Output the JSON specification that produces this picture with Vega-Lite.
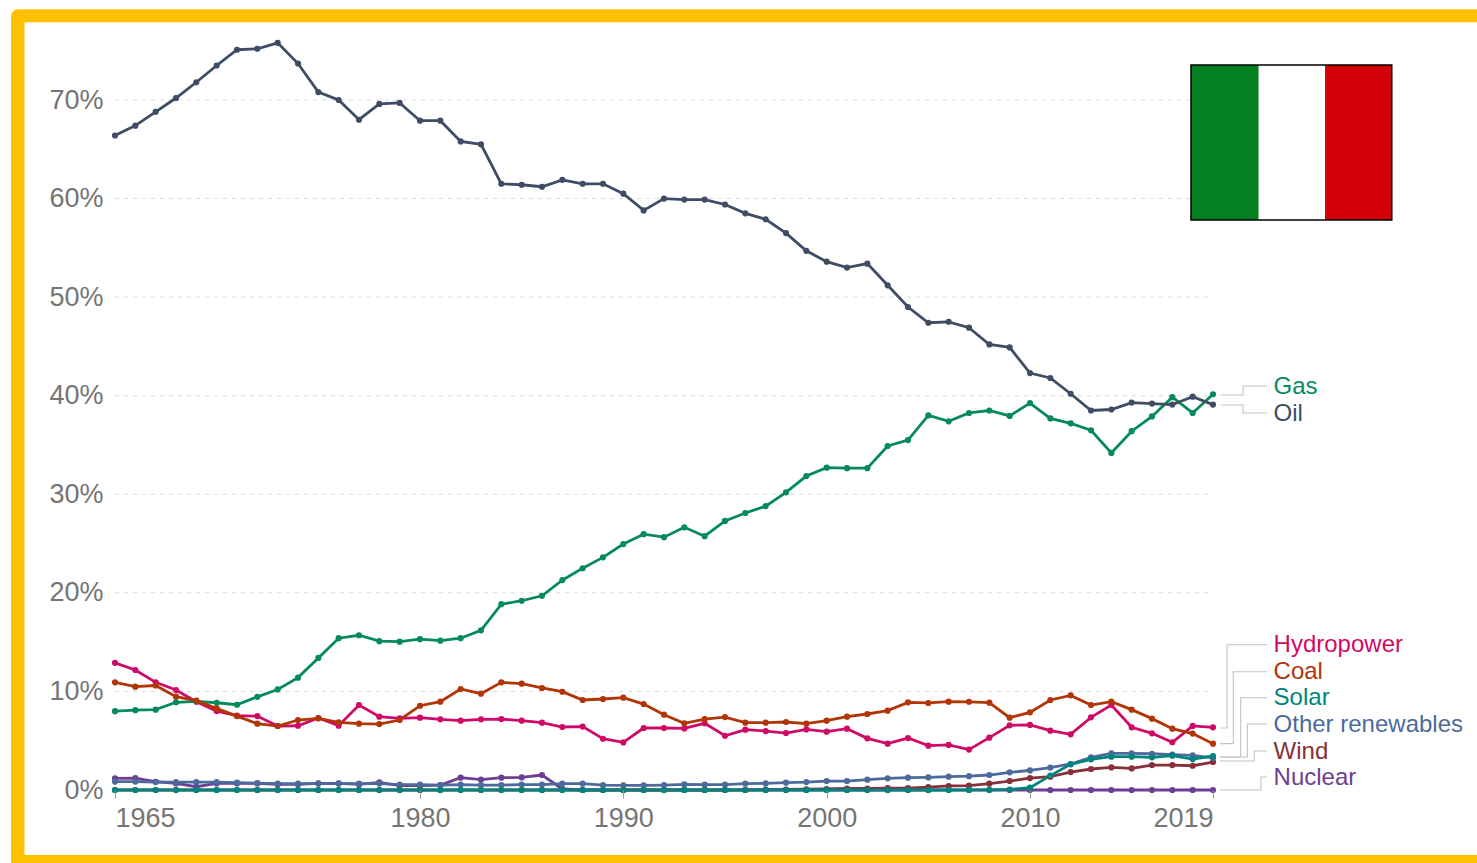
{
"$schema":"https://vega.github.io/schema/vega-lite/v6.json",
"width":1098,"height":759,
"autosize":"none",
"padding":{"left":115,"top":31,"right":264,"bottom":73},
"background":"#ffffff",
"view":{"stroke":null},
"config":{"font":"Liberation Sans"},
"datasets":{
"energy":[
{"year":1965,"source":"Nuclear","share":1.18},{"year":1966,"source":"Nuclear","share":1.21},{"year":1967,"source":"Nuclear","share":0.84},{"year":1968,"source":"Nuclear","share":0.67},{"year":1969,"source":"Nuclear","share":0.33},{"year":1970,"source":"Nuclear","share":0.67},{"year":1971,"source":"Nuclear","share":0.67},{"year":1972,"source":"Nuclear","share":0.67},{"year":1973,"source":"Nuclear","share":0.57},{"year":1974,"source":"Nuclear","share":0.57},{"year":1975,"source":"Nuclear","share":0.67},{"year":1976,"source":"Nuclear","share":0.67},{"year":1977,"source":"Nuclear","share":0.57},{"year":1978,"source":"Nuclear","share":0.78},{"year":1979,"source":"Nuclear","share":0.44},{"year":1980,"source":"Nuclear","share":0.44},{"year":1981,"source":"Nuclear","share":0.5},{"year":1982,"source":"Nuclear","share":1.25},{"year":1983,"source":"Nuclear","share":1.05},{"year":1984,"source":"Nuclear","share":1.25},{"year":1985,"source":"Nuclear","share":1.28},{"year":1986,"source":"Nuclear","share":1.52},{"year":1987,"source":"Nuclear","share":0.1},{"year":1988,"source":"Nuclear","share":0},{"year":1989,"source":"Nuclear","share":0},{"year":1990,"source":"Nuclear","share":0},{"year":1991,"source":"Nuclear","share":0},{"year":1992,"source":"Nuclear","share":0},{"year":1993,"source":"Nuclear","share":0},{"year":1994,"source":"Nuclear","share":0},{"year":1995,"source":"Nuclear","share":0},{"year":1996,"source":"Nuclear","share":0},{"year":1997,"source":"Nuclear","share":0},{"year":1998,"source":"Nuclear","share":0},{"year":1999,"source":"Nuclear","share":0},{"year":2000,"source":"Nuclear","share":0},{"year":2001,"source":"Nuclear","share":0},{"year":2002,"source":"Nuclear","share":0},{"year":2003,"source":"Nuclear","share":0},{"year":2004,"source":"Nuclear","share":0},{"year":2005,"source":"Nuclear","share":0},{"year":2006,"source":"Nuclear","share":0},{"year":2007,"source":"Nuclear","share":0},{"year":2008,"source":"Nuclear","share":0},{"year":2009,"source":"Nuclear","share":0},{"year":2010,"source":"Nuclear","share":0},{"year":2011,"source":"Nuclear","share":0},{"year":2012,"source":"Nuclear","share":0},{"year":2013,"source":"Nuclear","share":0},{"year":2014,"source":"Nuclear","share":0},{"year":2015,"source":"Nuclear","share":0},{"year":2016,"source":"Nuclear","share":0},{"year":2017,"source":"Nuclear","share":0},{"year":2018,"source":"Nuclear","share":0},{"year":2019,"source":"Nuclear","share":0},
{"year":1965,"source":"Wind","share":0},{"year":1966,"source":"Wind","share":0},{"year":1967,"source":"Wind","share":0},{"year":1968,"source":"Wind","share":0},{"year":1969,"source":"Wind","share":0},{"year":1970,"source":"Wind","share":0},{"year":1971,"source":"Wind","share":0},{"year":1972,"source":"Wind","share":0},{"year":1973,"source":"Wind","share":0},{"year":1974,"source":"Wind","share":0},{"year":1975,"source":"Wind","share":0},{"year":1976,"source":"Wind","share":0},{"year":1977,"source":"Wind","share":0},{"year":1978,"source":"Wind","share":0},{"year":1979,"source":"Wind","share":0},{"year":1980,"source":"Wind","share":0},{"year":1981,"source":"Wind","share":0},{"year":1982,"source":"Wind","share":0},{"year":1983,"source":"Wind","share":0},{"year":1984,"source":"Wind","share":0},{"year":1985,"source":"Wind","share":0},{"year":1986,"source":"Wind","share":0},{"year":1987,"source":"Wind","share":0},{"year":1988,"source":"Wind","share":0},{"year":1989,"source":"Wind","share":0},{"year":1990,"source":"Wind","share":0},{"year":1991,"source":"Wind","share":0},{"year":1992,"source":"Wind","share":0},{"year":1993,"source":"Wind","share":0},{"year":1994,"source":"Wind","share":0},{"year":1995,"source":"Wind","share":0},{"year":1996,"source":"Wind","share":0.02},{"year":1997,"source":"Wind","share":0.03},{"year":1998,"source":"Wind","share":0.05},{"year":1999,"source":"Wind","share":0.08},{"year":2000,"source":"Wind","share":0.1},{"year":2001,"source":"Wind","share":0.15},{"year":2002,"source":"Wind","share":0.15},{"year":2003,"source":"Wind","share":0.2},{"year":2004,"source":"Wind","share":0.2},{"year":2005,"source":"Wind","share":0.3},{"year":2006,"source":"Wind","share":0.41},{"year":2007,"source":"Wind","share":0.44},{"year":2008,"source":"Wind","share":0.64},{"year":2009,"source":"Wind","share":0.91},{"year":2010,"source":"Wind","share":1.21},{"year":2011,"source":"Wind","share":1.35},{"year":2012,"source":"Wind","share":1.82},{"year":2013,"source":"Wind","share":2.13},{"year":2014,"source":"Wind","share":2.29},{"year":2015,"source":"Wind","share":2.19},{"year":2016,"source":"Wind","share":2.53},{"year":2017,"source":"Wind","share":2.53},{"year":2018,"source":"Wind","share":2.46},{"year":2019,"source":"Wind","share":2.84},
{"year":1965,"source":"Other renewables","share":0.85},{"year":1966,"source":"Other renewables","share":0.85},{"year":1967,"source":"Other renewables","share":0.8},{"year":1968,"source":"Other renewables","share":0.8},{"year":1969,"source":"Other renewables","share":0.8},{"year":1970,"source":"Other renewables","share":0.8},{"year":1971,"source":"Other renewables","share":0.75},{"year":1972,"source":"Other renewables","share":0.7},{"year":1973,"source":"Other renewables","share":0.65},{"year":1974,"source":"Other renewables","share":0.65},{"year":1975,"source":"Other renewables","share":0.65},{"year":1976,"source":"Other renewables","share":0.65},{"year":1977,"source":"Other renewables","share":0.65},{"year":1978,"source":"Other renewables","share":0.65},{"year":1979,"source":"Other renewables","share":0.55},{"year":1980,"source":"Other renewables","share":0.55},{"year":1981,"source":"Other renewables","share":0.5},{"year":1982,"source":"Other renewables","share":0.55},{"year":1983,"source":"Other renewables","share":0.5},{"year":1984,"source":"Other renewables","share":0.5},{"year":1985,"source":"Other renewables","share":0.55},{"year":1986,"source":"Other renewables","share":0.55},{"year":1987,"source":"Other renewables","share":0.64},{"year":1988,"source":"Other renewables","share":0.64},{"year":1989,"source":"Other renewables","share":0.5},{"year":1990,"source":"Other renewables","share":0.47},{"year":1991,"source":"Other renewables","share":0.47},{"year":1992,"source":"Other renewables","share":0.5},{"year":1993,"source":"Other renewables","share":0.57},{"year":1994,"source":"Other renewables","share":0.54},{"year":1995,"source":"Other renewables","share":0.54},{"year":1996,"source":"Other renewables","share":0.64},{"year":1997,"source":"Other renewables","share":0.67},{"year":1998,"source":"Other renewables","share":0.74},{"year":1999,"source":"Other renewables","share":0.8},{"year":2000,"source":"Other renewables","share":0.91},{"year":2001,"source":"Other renewables","share":0.91},{"year":2002,"source":"Other renewables","share":1.05},{"year":2003,"source":"Other renewables","share":1.18},{"year":2004,"source":"Other renewables","share":1.25},{"year":2005,"source":"Other renewables","share":1.28},{"year":2006,"source":"Other renewables","share":1.35},{"year":2007,"source":"Other renewables","share":1.4},{"year":2008,"source":"Other renewables","share":1.52},{"year":2009,"source":"Other renewables","share":1.79},{"year":2010,"source":"Other renewables","share":1.99},{"year":2011,"source":"Other renewables","share":2.27},{"year":2012,"source":"Other renewables","share":2.64},{"year":2013,"source":"Other renewables","share":3.31},{"year":2014,"source":"Other renewables","share":3.72},{"year":2015,"source":"Other renewables","share":3.72},{"year":2016,"source":"Other renewables","share":3.68},{"year":2017,"source":"Other renewables","share":3.59},{"year":2018,"source":"Other renewables","share":3.52},{"year":2019,"source":"Other renewables","share":3.25},
{"year":1965,"source":"Hydropower","share":12.9},{"year":1966,"source":"Hydropower","share":12.17},{"year":1967,"source":"Hydropower","share":10.92},{"year":1968,"source":"Hydropower","share":10.14},{"year":1969,"source":"Hydropower","share":8.96},{"year":1970,"source":"Hydropower","share":8.01},{"year":1971,"source":"Hydropower","share":7.54},{"year":1972,"source":"Hydropower","share":7.5},{"year":1973,"source":"Hydropower","share":6.49},{"year":1974,"source":"Hydropower","share":6.52},{"year":1975,"source":"Hydropower","share":7.3},{"year":1976,"source":"Hydropower","share":6.52},{"year":1977,"source":"Hydropower","share":8.62},{"year":1978,"source":"Hydropower","share":7.44},{"year":1979,"source":"Hydropower","share":7.27},{"year":1980,"source":"Hydropower","share":7.34},{"year":1981,"source":"Hydropower","share":7.17},{"year":1982,"source":"Hydropower","share":7.03},{"year":1983,"source":"Hydropower","share":7.17},{"year":1984,"source":"Hydropower","share":7.2},{"year":1985,"source":"Hydropower","share":7.03},{"year":1986,"source":"Hydropower","share":6.83},{"year":1987,"source":"Hydropower","share":6.39},{"year":1988,"source":"Hydropower","share":6.43},{"year":1989,"source":"Hydropower","share":5.2},{"year":1990,"source":"Hydropower","share":4.83},{"year":1991,"source":"Hydropower","share":6.29},{"year":1992,"source":"Hydropower","share":6.29},{"year":1993,"source":"Hydropower","share":6.25},{"year":1994,"source":"Hydropower","share":6.76},{"year":1995,"source":"Hydropower","share":5.5},{"year":1996,"source":"Hydropower","share":6.12},{"year":1997,"source":"Hydropower","share":5.98},{"year":1998,"source":"Hydropower","share":5.78},{"year":1999,"source":"Hydropower","share":6.15},{"year":2000,"source":"Hydropower","share":5.92},{"year":2001,"source":"Hydropower","share":6.22},{"year":2002,"source":"Hydropower","share":5.24},{"year":2003,"source":"Hydropower","share":4.7},{"year":2004,"source":"Hydropower","share":5.27},{"year":2005,"source":"Hydropower","share":4.5},{"year":2006,"source":"Hydropower","share":4.57},{"year":2007,"source":"Hydropower","share":4.1},{"year":2008,"source":"Hydropower","share":5.31},{"year":2009,"source":"Hydropower","share":6.56},{"year":2010,"source":"Hydropower","share":6.6},{"year":2011,"source":"Hydropower","share":6.02},{"year":2012,"source":"Hydropower","share":5.65},{"year":2013,"source":"Hydropower","share":7.37},{"year":2014,"source":"Hydropower","share":8.62},{"year":2015,"source":"Hydropower","share":6.36},{"year":2016,"source":"Hydropower","share":5.75},{"year":2017,"source":"Hydropower","share":4.84},{"year":2018,"source":"Hydropower","share":6.5},{"year":2019,"source":"Hydropower","share":6.36},
{"year":1965,"source":"Gas","share":8.0},{"year":1966,"source":"Gas","share":8.1},{"year":1967,"source":"Gas","share":8.15},{"year":1968,"source":"Gas","share":8.9},{"year":1969,"source":"Gas","share":9.0},{"year":1970,"source":"Gas","share":8.85},{"year":1971,"source":"Gas","share":8.65},{"year":1972,"source":"Gas","share":9.45},{"year":1973,"source":"Gas","share":10.2},{"year":1974,"source":"Gas","share":11.4},{"year":1975,"source":"Gas","share":13.4},{"year":1976,"source":"Gas","share":15.4},{"year":1977,"source":"Gas","share":15.7},{"year":1978,"source":"Gas","share":15.1},{"year":1979,"source":"Gas","share":15.05},{"year":1980,"source":"Gas","share":15.3},{"year":1981,"source":"Gas","share":15.15},{"year":1982,"source":"Gas","share":15.4},{"year":1983,"source":"Gas","share":16.2},{"year":1984,"source":"Gas","share":18.85},{"year":1985,"source":"Gas","share":19.2},{"year":1986,"source":"Gas","share":19.7},{"year":1987,"source":"Gas","share":21.3},{"year":1988,"source":"Gas","share":22.5},{"year":1989,"source":"Gas","share":23.6},{"year":1990,"source":"Gas","share":24.95},{"year":1991,"source":"Gas","share":25.95},{"year":1992,"source":"Gas","share":25.65},{"year":1993,"source":"Gas","share":26.65},{"year":1994,"source":"Gas","share":25.75},{"year":1995,"source":"Gas","share":27.3},{"year":1996,"source":"Gas","share":28.1},{"year":1997,"source":"Gas","share":28.8},{"year":1998,"source":"Gas","share":30.2},{"year":1999,"source":"Gas","share":31.85},{"year":2000,"source":"Gas","share":32.7},{"year":2001,"source":"Gas","share":32.65},{"year":2002,"source":"Gas","share":32.65},{"year":2003,"source":"Gas","share":34.9},{"year":2004,"source":"Gas","share":35.5},{"year":2005,"source":"Gas","share":38.0},{"year":2006,"source":"Gas","share":37.4},{"year":2007,"source":"Gas","share":38.25},{"year":2008,"source":"Gas","share":38.5},{"year":2009,"source":"Gas","share":37.95},{"year":2010,"source":"Gas","share":39.25},{"year":2011,"source":"Gas","share":37.7},{"year":2012,"source":"Gas","share":37.2},{"year":2013,"source":"Gas","share":36.5},{"year":2014,"source":"Gas","share":34.2},{"year":2015,"source":"Gas","share":36.4},{"year":2016,"source":"Gas","share":37.9},{"year":2017,"source":"Gas","share":39.85},{"year":2018,"source":"Gas","share":38.25},{"year":2019,"source":"Gas","share":40.15},
{"year":1965,"source":"Coal","share":10.92},{"year":1966,"source":"Coal","share":10.48},{"year":1967,"source":"Coal","share":10.6},{"year":1968,"source":"Coal","share":9.47},{"year":1969,"source":"Coal","share":9.06},{"year":1970,"source":"Coal","share":8.28},{"year":1971,"source":"Coal","share":7.5},{"year":1972,"source":"Coal","share":6.73},{"year":1973,"source":"Coal","share":6.49},{"year":1974,"source":"Coal","share":7.1},{"year":1975,"source":"Coal","share":7.27},{"year":1976,"source":"Coal","share":6.86},{"year":1977,"source":"Coal","share":6.73},{"year":1978,"source":"Coal","share":6.69},{"year":1979,"source":"Coal","share":7.1},{"year":1980,"source":"Coal","share":8.55},{"year":1981,"source":"Coal","share":8.96},{"year":1982,"source":"Coal","share":10.25},{"year":1983,"source":"Coal","share":9.77},{"year":1984,"source":"Coal","share":10.92},{"year":1985,"source":"Coal","share":10.79},{"year":1986,"source":"Coal","share":10.35},{"year":1987,"source":"Coal","share":9.97},{"year":1988,"source":"Coal","share":9.13},{"year":1989,"source":"Coal","share":9.23},{"year":1990,"source":"Coal","share":9.37},{"year":1991,"source":"Coal","share":8.72},{"year":1992,"source":"Coal","share":7.64},{"year":1993,"source":"Coal","share":6.76},{"year":1994,"source":"Coal","share":7.2},{"year":1995,"source":"Coal","share":7.4},{"year":1996,"source":"Coal","share":6.83},{"year":1997,"source":"Coal","share":6.83},{"year":1998,"source":"Coal","share":6.9},{"year":1999,"source":"Coal","share":6.73},{"year":2000,"source":"Coal","share":7.03},{"year":2001,"source":"Coal","share":7.44},{"year":2002,"source":"Coal","share":7.71},{"year":2003,"source":"Coal","share":8.05},{"year":2004,"source":"Coal","share":8.89},{"year":2005,"source":"Coal","share":8.83},{"year":2006,"source":"Coal","share":8.96},{"year":2007,"source":"Coal","share":8.95},{"year":2008,"source":"Coal","share":8.86},{"year":2009,"source":"Coal","share":7.34},{"year":2010,"source":"Coal","share":7.88},{"year":2011,"source":"Coal","share":9.13},{"year":2012,"source":"Coal","share":9.6},{"year":2013,"source":"Coal","share":8.62},{"year":2014,"source":"Coal","share":8.96},{"year":2015,"source":"Coal","share":8.15},{"year":2016,"source":"Coal","share":7.24},{"year":2017,"source":"Coal","share":6.22},{"year":2018,"source":"Coal","share":5.72},{"year":2019,"source":"Coal","share":4.7},
{"year":1965,"source":"Oil","share":66.4},{"year":1966,"source":"Oil","share":67.4},{"year":1967,"source":"Oil","share":68.8},{"year":1968,"source":"Oil","share":70.2},{"year":1969,"source":"Oil","share":71.8},{"year":1970,"source":"Oil","share":73.5},{"year":1971,"source":"Oil","share":75.1},{"year":1972,"source":"Oil","share":75.2},{"year":1973,"source":"Oil","share":75.8},{"year":1974,"source":"Oil","share":73.7},{"year":1975,"source":"Oil","share":70.8},{"year":1976,"source":"Oil","share":70.0},{"year":1977,"source":"Oil","share":68.0},{"year":1978,"source":"Oil","share":69.6},{"year":1979,"source":"Oil","share":69.7},{"year":1980,"source":"Oil","share":67.9},{"year":1981,"source":"Oil","share":67.9},{"year":1982,"source":"Oil","share":65.8},{"year":1983,"source":"Oil","share":65.5},{"year":1984,"source":"Oil","share":61.5},{"year":1985,"source":"Oil","share":61.4},{"year":1986,"source":"Oil","share":61.2},{"year":1987,"source":"Oil","share":61.9},{"year":1988,"source":"Oil","share":61.5},{"year":1989,"source":"Oil","share":61.5},{"year":1990,"source":"Oil","share":60.5},{"year":1991,"source":"Oil","share":58.8},{"year":1992,"source":"Oil","share":60.0},{"year":1993,"source":"Oil","share":59.9},{"year":1994,"source":"Oil","share":59.9},{"year":1995,"source":"Oil","share":59.4},{"year":1996,"source":"Oil","share":58.5},{"year":1997,"source":"Oil","share":57.9},{"year":1998,"source":"Oil","share":56.5},{"year":1999,"source":"Oil","share":54.7},{"year":2000,"source":"Oil","share":53.6},{"year":2001,"source":"Oil","share":53.0},{"year":2002,"source":"Oil","share":53.4},{"year":2003,"source":"Oil","share":51.2},{"year":2004,"source":"Oil","share":49.0},{"year":2005,"source":"Oil","share":47.4},{"year":2006,"source":"Oil","share":47.5},{"year":2007,"source":"Oil","share":46.9},{"year":2008,"source":"Oil","share":45.2},{"year":2009,"source":"Oil","share":44.9},{"year":2010,"source":"Oil","share":42.3},{"year":2011,"source":"Oil","share":41.8},{"year":2012,"source":"Oil","share":40.2},{"year":2013,"source":"Oil","share":38.5},{"year":2014,"source":"Oil","share":38.6},{"year":2015,"source":"Oil","share":39.3},{"year":2016,"source":"Oil","share":39.2},{"year":2017,"source":"Oil","share":39.1},{"year":2018,"source":"Oil","share":39.9},{"year":2019,"source":"Oil","share":39.1},
{"year":1965,"source":"Solar","share":0},{"year":1966,"source":"Solar","share":0},{"year":1967,"source":"Solar","share":0},{"year":1968,"source":"Solar","share":0},{"year":1969,"source":"Solar","share":0},{"year":1970,"source":"Solar","share":0},{"year":1971,"source":"Solar","share":0},{"year":1972,"source":"Solar","share":0},{"year":1973,"source":"Solar","share":0},{"year":1974,"source":"Solar","share":0},{"year":1975,"source":"Solar","share":0},{"year":1976,"source":"Solar","share":0},{"year":1977,"source":"Solar","share":0},{"year":1978,"source":"Solar","share":0},{"year":1979,"source":"Solar","share":0},{"year":1980,"source":"Solar","share":0},{"year":1981,"source":"Solar","share":0},{"year":1982,"source":"Solar","share":0},{"year":1983,"source":"Solar","share":0},{"year":1984,"source":"Solar","share":0},{"year":1985,"source":"Solar","share":0},{"year":1986,"source":"Solar","share":0},{"year":1987,"source":"Solar","share":0},{"year":1988,"source":"Solar","share":0},{"year":1989,"source":"Solar","share":0},{"year":1990,"source":"Solar","share":0},{"year":1991,"source":"Solar","share":0},{"year":1992,"source":"Solar","share":0},{"year":1993,"source":"Solar","share":0},{"year":1994,"source":"Solar","share":0},{"year":1995,"source":"Solar","share":0},{"year":1996,"source":"Solar","share":0},{"year":1997,"source":"Solar","share":0},{"year":1998,"source":"Solar","share":0},{"year":1999,"source":"Solar","share":0},{"year":2000,"source":"Solar","share":0},{"year":2001,"source":"Solar","share":0},{"year":2002,"source":"Solar","share":0},{"year":2003,"source":"Solar","share":0},{"year":2004,"source":"Solar","share":0},{"year":2005,"source":"Solar","share":0},{"year":2006,"source":"Solar","share":0},{"year":2007,"source":"Solar","share":0.01},{"year":2008,"source":"Solar","share":0.02},{"year":2009,"source":"Solar","share":0.05},{"year":2010,"source":"Solar","share":0.24},{"year":2011,"source":"Solar","share":1.46},{"year":2012,"source":"Solar","share":2.6},{"year":2013,"source":"Solar","share":3.11},{"year":2014,"source":"Solar","share":3.38},{"year":2015,"source":"Solar","share":3.38},{"year":2016,"source":"Solar","share":3.31},{"year":2017,"source":"Solar","share":3.48},{"year":2018,"source":"Solar","share":3.14},{"year":2019,"source":"Solar","share":3.45}
],
"leaders":[
{"source":"Gas","year":2019.39,"share":40.07},{"source":"Gas","year":2020.48,"share":40.07},{"source":"Gas","year":2020.48,"share":40.99},{"source":"Gas","year":2021.66,"share":40.99},
{"source":"Oil","year":2019.39,"share":39.06},{"source":"Oil","year":2020.48,"share":39.06},{"source":"Oil","year":2020.48,"share":38.25},{"source":"Oil","year":2021.66,"share":38.25},
{"source":"Hydropower","year":2019.34,"share":6.29},{"source":"Hydropower","year":2019.69,"share":6.29},{"source":"Hydropower","year":2019.69,"share":14.74},{"source":"Hydropower","year":2021.66,"share":14.74},
{"source":"Coal","year":2019.34,"share":4.7},{"source":"Coal","year":2020.0,"share":4.7},{"source":"Coal","year":2020.0,"share":12.0},{"source":"Coal","year":2021.66,"share":12.0},
{"source":"Solar","year":2019.34,"share":3.35},{"source":"Solar","year":2020.36,"share":3.35},{"source":"Solar","year":2020.36,"share":9.36},{"source":"Solar","year":2021.66,"share":9.36},
{"source":"Other renewables","year":2019.34,"share":3.35},{"source":"Other renewables","year":2020.69,"share":3.35},{"source":"Other renewables","year":2020.69,"share":6.7},{"source":"Other renewables","year":2021.66,"share":6.7},
{"source":"Wind","year":2019.34,"share":2.94},{"source":"Wind","year":2021.03,"share":2.94},{"source":"Wind","year":2021.03,"share":3.96},{"source":"Wind","year":2021.66,"share":3.96},
{"source":"Nuclear","year":2019.34,"share":0},{"source":"Nuclear","year":2021.36,"share":0},{"source":"Nuclear","year":2021.36,"share":1.32},{"source":"Nuclear","year":2021.66,"share":1.32}
],
"names":[
{"source":"Gas","year":2021.98,"share":40.9},{"source":"Oil","year":2021.98,"share":38.16},{"source":"Hydropower","year":2021.98,"share":14.71},{"source":"Coal","year":2021.98,"share":11.98},{"source":"Solar","year":2021.98,"share":9.34},{"source":"Other renewables","year":2021.98,"share":6.61},{"source":"Wind","year":2021.98,"share":3.87},{"source":"Nuclear","year":2021.98,"share":1.23}
],
"gridlines":[{"share":10},{"share":20},{"share":30},{"share":40},{"share":50},{"share":60},{"share":70}]
},
"layer":[
{"description":"Gold card frame","data":{"values":[{}]},"mark":{"type":"rect","fill":"#FFC000","cornerRadius":7},
 "encoding":{
  "x":{"datum":1959.89,"type":"quantitative","scale":{"domain":[1965,2019],"nice":false,"zero":false},
   "axis":{"values":[1965,1980,1990,2000,2010,2019],"format":"d","title":null,"grid":false,"domain":false,"ticks":true,"tickSize":8,"tickColor":"#999999","tickWidth":1,"labelFlush":true,"labelOverlap":false,"labelFontSize":27,"labelColor":"#757575","labelPadding":7,"labelFont":"Liberation Sans","zindex":1}},
  "x2":{"datum":2045},
  "y":{"datum":79.2,"type":"quantitative","scale":{"domain":[0,77],"nice":false,"zero":false},
   "axis":{"values":[0,10,20,30,40,50,60,70],"labelExpr":"datum.value + '%'","title":null,"grid":false,"domain":false,"ticks":false,"labelFontSize":27,"labelColor":"#757575","labelPadding":12,"labelFont":"Liberation Sans","zindex":1}},
  "y2":{"datum":-15}
 }},
{"description":"White card interior","data":{"values":[{}]},"mark":{"type":"rect","fill":"#ffffff"},
 "encoding":{
  "x":{"datum":1960.55,"type":"quantitative","scale":{"domain":[1965,2019],"nice":false,"zero":false}},
  "x2":{"datum":2045},
  "y":{"datum":77.9,"type":"quantitative","scale":{"domain":[0,77],"nice":false,"zero":false}},
  "y2":{"datum":-6.6}
 }},
{"description":"Dashed horizontal gridlines","data":{"name":"gridlines"},"mark":{"type":"rule","stroke":"#d9d9d9","strokeWidth":1,"strokeDash":[4,5]},
 "encoding":{
  "x":{"datum":1965,"type":"quantitative","scale":{"domain":[1965,2019],"nice":false,"zero":false}},
  "x2":{"datum":2019},
  "y":{"field":"share","type":"quantitative","scale":{"domain":[0,77],"nice":false,"zero":false}}
 }},
{"description":"Elbow leaders from line ends to the source names","data":{"name":"leaders"},"mark":{"type":"line","stroke":"#c4c4c4","strokeWidth":1.1,"interpolate":"linear"},
 "encoding":{
  "x":{"field":"year","type":"quantitative","scale":{"domain":[1965,2019],"nice":false,"zero":false}},
  "y":{"field":"share","type":"quantitative","scale":{"domain":[0,77],"nice":false,"zero":false}},
  "detail":{"field":"source"},
  "order":{"value":0}
 }},
{"description":"Energy share lines with dots","data":{"name":"energy"},"mark":{"type":"line","strokeWidth":2.8,"point":{"filled":true,"size":38,"opacity":1}},
 "encoding":{
  "x":{"field":"year","type":"quantitative","scale":{"domain":[1965,2019],"nice":false,"zero":false}},
  "y":{"field":"share","type":"quantitative","scale":{"domain":[0,77],"nice":false,"zero":false}},
  "color":{"field":"source","type":"nominal","legend":null,"sort":null,"scale":{"domain":["Gas","Oil","Hydropower","Coal","Solar","Other renewables","Wind","Nuclear"],"range":["#058A5B","#3E4C64","#CF0A66","#B13507","#00847E","#4C6A9C","#883039","#6D3E91"]}}
 }},
{"description":"Source names right of the plot","data":{"name":"names"},"mark":{"type":"text","align":"left","baseline":"middle","fontSize":24,"font":"Liberation Sans"},
 "encoding":{
  "x":{"field":"year","type":"quantitative","scale":{"domain":[1965,2019],"nice":false,"zero":false}},
  "y":{"field":"share","type":"quantitative","scale":{"domain":[0,77],"nice":false,"zero":false}},
  "text":{"field":"source"},
  "color":{"field":"source","type":"nominal","legend":null,"sort":null,"scale":{"domain":["Gas","Oil","Hydropower","Coal","Solar","Other renewables","Wind","Nuclear"],"range":["#058A5B","#3E4C64","#CF0A66","#B13507","#00847E","#4C6A9C","#883039","#6D3E91"]}}
 }},
{"description":"Italian flag, green stripe","data":{"values":[{}]},"mark":{"type":"rect","fill":"#058020"},
 "encoding":{"x":{"datum":2017.92,"type":"quantitative","scale":{"domain":[1965,2019],"nice":false,"zero":false}},"x2":{"datum":2021.24},"y":{"datum":73.55,"type":"quantitative","scale":{"domain":[0,77],"nice":false,"zero":false}},"y2":{"datum":57.83}}},
{"description":"Italian flag, red stripe","data":{"values":[{}]},"mark":{"type":"rect","fill":"#D40008"},
 "encoding":{"x":{"datum":2024.51,"type":"quantitative","scale":{"domain":[1965,2019],"nice":false,"zero":false}},"x2":{"datum":2027.79},"y":{"datum":73.55,"type":"quantitative","scale":{"domain":[0,77],"nice":false,"zero":false}},"y2":{"datum":57.83}}},
{"description":"Italian flag, white stripe and black outline","data":{"values":[{}]},"mark":{"type":"rect","fill":null,"stroke":"#000000","strokeWidth":1.6},
 "encoding":{"x":{"datum":2017.92,"type":"quantitative","scale":{"domain":[1965,2019],"nice":false,"zero":false}},"x2":{"datum":2027.79},"y":{"datum":73.55,"type":"quantitative","scale":{"domain":[0,77],"nice":false,"zero":false}},"y2":{"datum":57.83}}}
]
}
